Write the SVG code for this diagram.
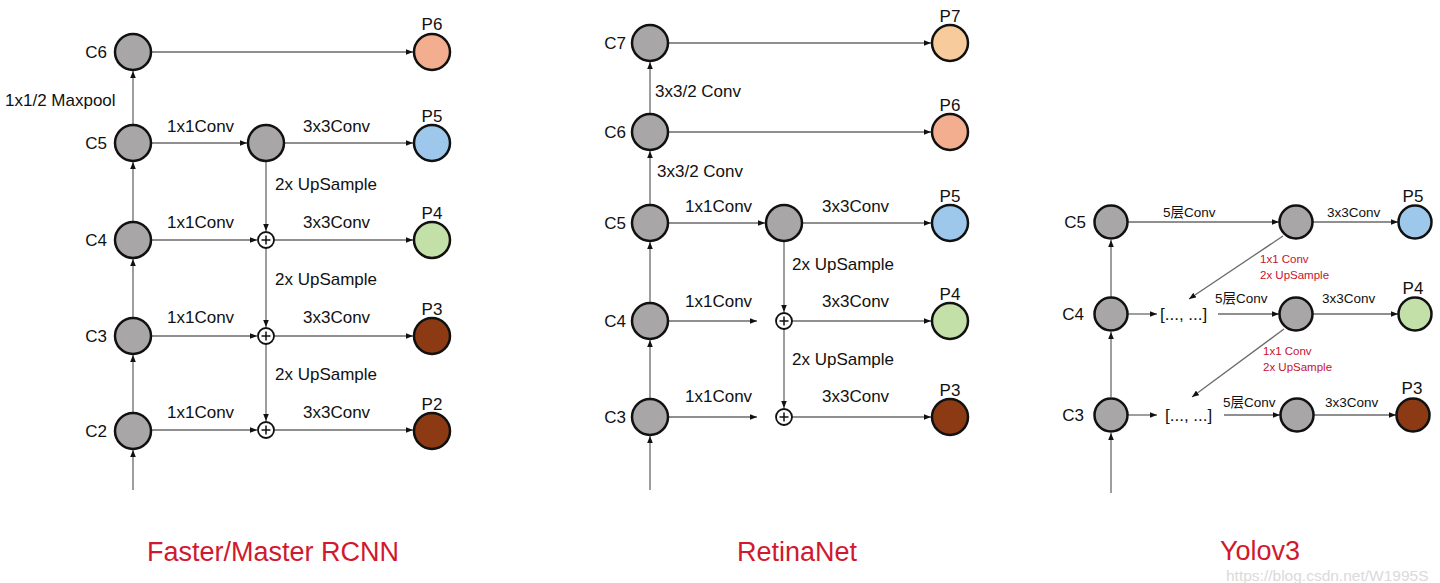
<svg xmlns="http://www.w3.org/2000/svg" width="1440" height="583" viewBox="0 0 1440 583">
<defs>
<marker id="ah" viewBox="0 0 10 8" refX="10" refY="4" markerWidth="7" markerHeight="5.6" markerUnits="userSpaceOnUse" orient="auto"><path d="M0,0 L10,4 L0,8 z" fill="#111"/></marker>
<style>
.n{stroke:#111;stroke-width:2.5}
.g{fill:#a8a6a6}
.p7{fill:#f8cb9c}.p6{fill:#f2ae8e}.p5{fill:#9dc8ec}.p4{fill:#c3e0a8}.p3{fill:#8b3a14}
.plus circle{fill:#fff;stroke:#111;stroke-width:1.8}
.plus path{stroke:#111;stroke-width:1.5;fill:none}
.e{stroke:#6a6a6a;stroke-width:1.3;fill:none;marker-end:url(#ah)}
text{font-family:"Liberation Sans","Noto Sans CJK SC",sans-serif;fill:#111}
.l{font-size:17px}
.nl{font-size:17px}
.s{font-size:13.5px}
.r{font-size:11.5px;fill:#c8102e}
.t{font-size:27px;fill:#d0192e;text-anchor:middle}
.pl{text-anchor:middle}
.cl{text-anchor:end}
.wm{font-size:15.5px;fill:#d4d4d4;opacity:0.85}
</style>
</defs>
<rect width="1440" height="583" fill="#fff"/>

<g id="connectors">
<!-- Faster RCNN -->
<path class="e" d="M151,52 H413"/>
<path class="e" d="M151,143 H247"/>
<path class="e" d="M284,143 H413"/>
<path class="e" d="M151,240 H257"/>
<path class="e" d="M274,240 H413"/>
<path class="e" d="M151,336 H257"/>
<path class="e" d="M274,336 H413"/>
<path class="e" d="M151,430 H257"/>
<path class="e" d="M274,430 H413"/>
<path class="e" d="M266,161 V231"/>
<path class="e" d="M266,248 V327"/>
<path class="e" d="M266,344 V421"/>
<path class="e" d="M133,125 V71"/>
<path class="e" d="M133,222 V162"/>
<path class="e" d="M133,318 V259"/>
<path class="e" d="M133,413 V355"/>
<path class="e" d="M133,490 V450"/>
<!-- RetinaNet -->
<path class="e" d="M668,43 H931"/>
<path class="e" d="M668,132 H931"/>
<path class="e" d="M668,223 H765"/>
<path class="e" d="M802,223 H931"/>
<path class="e" d="M668,321 H757"/>
<path class="e" d="M792,321 H931"/>
<path class="e" d="M668,417 H757"/>
<path class="e" d="M792,417 H931"/>
<path class="e" d="M784,241 V312"/>
<path class="e" d="M784,329 V408"/>
<path class="e" d="M650,114 V62"/>
<path class="e" d="M650,205 V151"/>
<path class="e" d="M650,303 V242"/>
<path class="e" d="M650,399 V340"/>
<path class="e" d="M650,490 V436"/>
<!-- Yolov3 -->
<path class="e" d="M1128,222 H1279"/>
<path class="e" d="M1313,222 H1398"/>
<path class="e" d="M1283,236 L1189,299"/>
<path class="e" d="M1128,314 H1157"/>
<path class="e" d="M1218,314 H1279"/>
<path class="e" d="M1313,314 H1398"/>
<path class="e" d="M1284,329 L1192,397"/>
<path class="e" d="M1128,415 H1157"/>
<path class="e" d="M1224,415 H1280"/>
<path class="e" d="M1314,415 H1396"/>
<path class="e" d="M1111,397 V332"/>
<path class="e" d="M1111,297 V240"/>
<path class="e" d="M1111,493 V433"/>
</g>

<g id="edge-labels">
<text class="l" x="5" y="106">1x1/2 Maxpool</text>
<text class="l" x="167" y="132">1x1Conv</text>
<text class="l" x="303" y="132">3x3Conv</text>
<text class="l" x="275" y="190">2x UpSample</text>
<text class="l" x="167" y="228">1x1Conv</text>
<text class="l" x="303" y="228">3x3Conv</text>
<text class="l" x="275" y="285">2x UpSample</text>
<text class="l" x="167" y="323">1x1Conv</text>
<text class="l" x="303" y="323">3x3Conv</text>
<text class="l" x="275" y="380">2x UpSample</text>
<text class="l" x="167" y="418">1x1Conv</text>
<text class="l" x="303" y="418">3x3Conv</text>

<text class="l" x="655" y="97">3x3/2 Conv</text>
<text class="l" x="657" y="177">3x3/2 Conv</text>
<text class="l" x="685" y="212">1x1Conv</text>
<text class="l" x="822" y="212">3x3Conv</text>
<text class="l" x="792" y="270">2x UpSample</text>
<text class="l" x="685" y="307">1x1Conv</text>
<text class="l" x="822" y="307">3x3Conv</text>
<text class="l" x="792" y="365">2x UpSample</text>
<text class="l" x="685" y="402">1x1Conv</text>
<text class="l" x="822" y="402">3x3Conv</text>

<text class="s" x="1163" y="217">5层Conv</text>
<text class="s" x="1327" y="217">3x3Conv</text>
<text class="r" x="1260" y="263">1x1 Conv</text>
<text class="r" x="1260" y="279">2x UpSample</text>
<text class="s" x="1215" y="303">5层Conv</text>
<text class="s" x="1322" y="303">3x3Conv</text>
<text class="r" x="1263" y="355">1x1 Conv</text>
<text class="r" x="1263" y="371">2x UpSample</text>
<text class="s" x="1223" y="407">5层Conv</text>
<text class="s" x="1325" y="407">3x3Conv</text>
</g>

<!-- Faster/Master RCNN nodes -->
<g id="f-C6"><circle class="n g" cx="133" cy="52" r="18"/><text class="nl cl" x="107" y="58">C6</text></g>
<g id="f-C5"><circle class="n g" cx="133" cy="143" r="18"/><text class="nl cl" x="107" y="149">C5</text></g>
<g id="f-C4"><circle class="n g" cx="133" cy="240" r="18"/><text class="nl cl" x="107" y="246">C4</text></g>
<g id="f-C3"><circle class="n g" cx="133" cy="336" r="18"/><text class="nl cl" x="107" y="342">C3</text></g>
<g id="f-C2"><circle class="n g" cx="133" cy="431" r="18"/><text class="nl cl" x="107" y="437">C2</text></g>
<g id="f-M5"><circle class="n g" cx="266" cy="143" r="18"/></g>
<g id="f-A4" class="plus"><circle cx="266" cy="240" r="8"/><path d="M261.5,240 H270.5 M266,235.5 V244.5"/></g>
<g id="f-A3" class="plus"><circle cx="266" cy="336" r="8"/><path d="M261.5,336 H270.5 M266,331.5 V340.5"/></g>
<g id="f-A2" class="plus"><circle cx="266" cy="430" r="8"/><path d="M261.5,430 H270.5 M266,425.5 V434.5"/></g>
<g id="f-P6"><circle class="n p6" cx="432" cy="52" r="18"/><text class="nl pl" x="432" y="30">P6</text></g>
<g id="f-P5"><circle class="n p5" cx="432" cy="143" r="18"/><text class="nl pl" x="432" y="122">P5</text></g>
<g id="f-P4"><circle class="n p4" cx="432" cy="240" r="18"/><text class="nl pl" x="432" y="219">P4</text></g>
<g id="f-P3"><circle class="n p3" cx="432" cy="336" r="18"/><text class="nl pl" x="432" y="315">P3</text></g>
<g id="f-P2"><circle class="n p3" cx="432" cy="431" r="18"/><text class="nl pl" x="432" y="410">P2</text></g>

<!-- RetinaNet nodes -->
<g id="r-C7"><circle class="n g" cx="650" cy="43" r="18"/><text class="nl cl" x="626" y="49">C7</text></g>
<g id="r-C6"><circle class="n g" cx="650" cy="132" r="18"/><text class="nl cl" x="626" y="138">C6</text></g>
<g id="r-C5"><circle class="n g" cx="650" cy="223" r="18"/><text class="nl cl" x="626" y="229">C5</text></g>
<g id="r-C4"><circle class="n g" cx="650" cy="321" r="18"/><text class="nl cl" x="626" y="327">C4</text></g>
<g id="r-C3"><circle class="n g" cx="650" cy="417" r="18"/><text class="nl cl" x="626" y="423">C3</text></g>
<g id="r-M5"><circle class="n g" cx="784" cy="223" r="18"/></g>
<g id="r-A4" class="plus"><circle cx="784" cy="321" r="8"/><path d="M779.5,321 H788.5 M784,316.5 V325.5"/></g>
<g id="r-A3" class="plus"><circle cx="784" cy="417" r="8"/><path d="M779.5,417 H788.5 M784,412.5 V421.5"/></g>
<g id="r-P7"><circle class="n p7" cx="950" cy="43" r="18"/><text class="nl pl" x="950" y="22">P7</text></g>
<g id="r-P6"><circle class="n p6" cx="950" cy="132" r="18"/><text class="nl pl" x="950" y="111">P6</text></g>
<g id="r-P5"><circle class="n p5" cx="950" cy="223" r="18"/><text class="nl pl" x="950" y="202">P5</text></g>
<g id="r-P4"><circle class="n p4" cx="950" cy="321" r="18"/><text class="nl pl" x="950" y="300">P4</text></g>
<g id="r-P3"><circle class="n p3" cx="950" cy="417" r="18"/><text class="nl pl" x="950" y="396">P3</text></g>

<!-- Yolov3 nodes -->
<g id="y-C5"><circle class="n g" cx="1111" cy="222" r="16.5"/><text class="nl cl" x="1086" y="228">C5</text></g>
<g id="y-C4"><circle class="n g" cx="1111" cy="314" r="16.5"/><text class="nl cl" x="1084" y="320">C4</text></g>
<g id="y-C3"><circle class="n g" cx="1111" cy="415" r="16.5"/><text class="nl cl" x="1084" y="421">C3</text></g>
<g id="y-M5"><circle class="n g" cx="1296" cy="222" r="16.5"/></g>
<g id="y-CAT4"><text class="l" x="1160" y="320">[..., ...]</text></g>
<g id="y-M4"><circle class="n g" cx="1296" cy="314" r="16.5"/></g>
<g id="y-CAT3"><text class="l" x="1165" y="421">[..., ...]</text></g>
<g id="y-M3"><circle class="n g" cx="1297" cy="415" r="16.5"/></g>
<g id="y-P5"><circle class="n p5" cx="1415" cy="222" r="16.5"/><text class="nl pl" x="1413" y="202">P5</text></g>
<g id="y-P4"><circle class="n p4" cx="1415" cy="314" r="16.5"/><text class="nl pl" x="1413" y="294">P4</text></g>
<g id="y-P3"><circle class="n p3" cx="1413" cy="415" r="16.5"/><text class="nl pl" x="1412" y="394">P3</text></g>

<g id="titles">
<text class="t" x="273" y="561">Faster/Master RCNN</text>
<text class="t" x="797" y="561">RetinaNet</text>
<text class="t" x="1260" y="560">Yolov3</text>
<text class="wm" x="1226" y="581">https://blog.csdn.net/W1995S</text>
</g>
</svg>
